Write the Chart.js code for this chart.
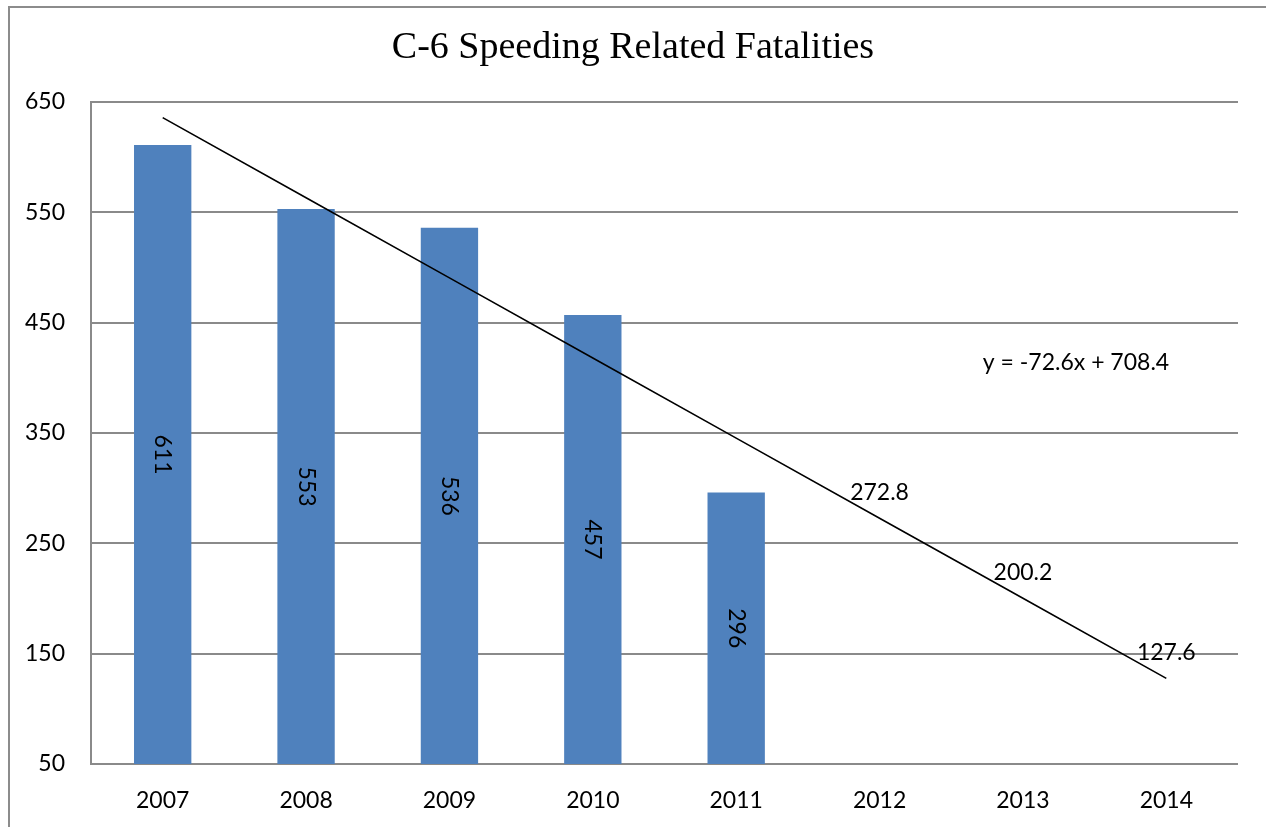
<!DOCTYPE html>
<html>
<head>
<meta charset="utf-8">
<script src="https://cdn.jsdelivr.net/npm/chart.js@4"></script>
<style>
  html, body { margin: 0; padding: 0; background: #fff; overflow: hidden; }
  #wrap { position: relative; width: 1266px; height: 827px; }
  #frame {
    position: absolute; left: 8px; top: 6px; width: 1300px; height: 900px;
    border-left: 2px solid #8c8c8c; border-top: 2px solid #8c8c8c;
    pointer-events: none;
  }
</style>
</head>
<body>
<div id="wrap">
  <canvas id="chart" width="1266" height="827"></canvas>
  <div id="frame"></div>
</div>
<script>
const years = ["2007", "2008", "2009", "2010", "2011", "2012", "2013", "2014"];
const fatalities = [611, 553, 536, 457, 296, null, null, null];
const trend = [635.8, 563.2, 490.6, 418.0, 345.4, 272.8, 200.2, 127.6];
const labeledTrendYears = ["2012", "2013", "2014"];
const equationText = "y = -72.6x + 708.4";
const equationAt = { x: 6.37, y: 414 };
const titleText = "C-6 Speeding Related Fatalities";

const sansFamily = "Lato, 'Open Sans', sans-serif";
const labelFont = "23px " + sansFamily;

// title centred on the whole canvas (chart.js centres it on the box minus padding)
const titlePlugin = {
  id: "pageTitle",
  afterDraw(chart) {
    const ctx = chart.ctx;
    ctx.save();
    ctx.font = "38px 'Liberation Serif', 'Times New Roman', serif";
    ctx.fillStyle = "#000";
    ctx.textAlign = "center";
    ctx.textBaseline = "alphabetic";
    ctx.fillText(titleText, chart.width / 2, 58);
    ctx.restore();
  },
};

// bar values (rotated) + trend projections + equation text
const labelPlugin = {
  id: "labels",
  afterDatasetsDraw(chart) {
    const ctx = chart.ctx;
    const xs = chart.scales.x;
    const ys = chart.scales.y;
    ctx.save();
    ctx.font = labelFont;
    ctx.fillStyle = "#000";

    chart.getDatasetMeta(0).data.forEach((bar, i) => {
      if (fatalities[i] == null) return;
      const mid = (bar.y + ys.bottom) / 2;
      ctx.save();
      ctx.translate(bar.x, mid);
      ctx.rotate(Math.PI / 2);
      ctx.textAlign = "center";
      ctx.textBaseline = "middle";
      ctx.fillText(String(fatalities[i]), 0, 0);
      ctx.restore();
    });

    chart.getDatasetMeta(1).data.forEach((pt, i) => {
      if (!labeledTrendYears.includes(years[i])) return;
      ctx.textAlign = "center";
      ctx.textBaseline = "middle";
      ctx.fillText(trend[i].toFixed(1), pt.x, pt.y - 26);
    });

    ctx.textAlign = "center";
    ctx.textBaseline = "middle";
    ctx.fillText(
      equationText,
      xs.getPixelForValue(equationAt.x),
      ys.getPixelForValue(equationAt.y),
    );
    ctx.restore();
  },
};

new Chart(document.getElementById("chart").getContext("2d"), {
  type: "bar",
  data: {
    labels: years,
    datasets: [
      {
        label: "Fatalities",
        data: fatalities,
        backgroundColor: "#4f81bd",
        borderWidth: 0,
        categoryPercentage: 1,
        barPercentage: 0.4,
        order: 2,
      },
      {
        type: "line",
        label: "Trend",
        data: trend,
        borderColor: "#000",
        borderWidth: 1.6,
        pointRadius: 0,
        fill: false,
        tension: 0,
        order: 1,
      },
    ],
  },
  options: {
    responsive: false,
    animation: false,
    layout: { padding: { left: 0, right: 28, top: 102, bottom: 0 } },
    plugins: {
      legend: { display: false },
      tooltip: { enabled: false },
      title: { display: false },
    },
    scales: {
      x: {
        grid: { display: false, drawTicks: false },
        border: { display: false },
        ticks: { color: "#000", font: { family: sansFamily, size: 23 }, padding: 23, maxRotation: 0 },
        afterFit: (s) => { s.height = 63; },
      },
      y: {
        min: 50,
        max: 650,
        ticks: { stepSize: 100, color: "#000", font: { family: sansFamily, size: 23 }, padding: 26 },
        grid: { color: "#8a8a8a", lineWidth: 2, drawTicks: false },
        border: { display: true, color: "#8a8a8a", width: 2 },
        afterFit: (s) => { s.width = 91; },
      },
    },
  },
  plugins: [labelPlugin, titlePlugin],
});
</script>
</body>
</html>
